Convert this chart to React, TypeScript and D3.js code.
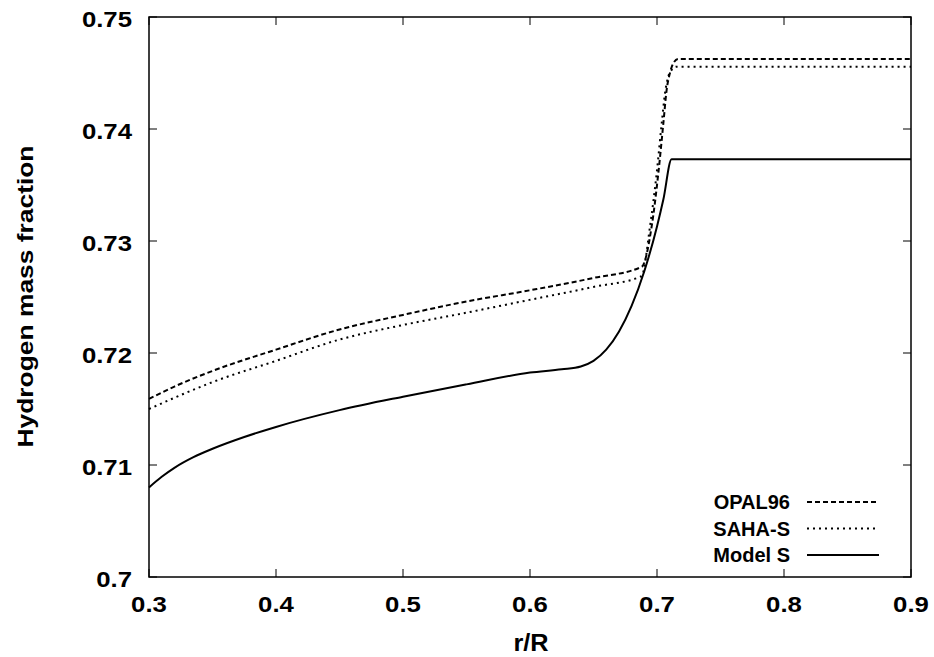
import React from "react";
import * as d3 from "d3";

const opalR = [0.30, 0.32, 0.35, 0.40, 0.45, 0.50, 0.55, 0.60, 0.65, 0.688, 0.6958, 0.7010, 0.7050, 0.7076, 0.7102, 0.7128, 0.7168, 0.90];
const opalY = [0.7159, 0.7170, 0.7184, 0.7203, 0.7221, 0.7234, 0.7246, 0.7256, 0.7267, 0.7277, 0.7313, 0.7360, 0.7405, 0.7435, 0.7450, 0.74586, 0.74625, 0.74625];

const sahaR = [0.30, 0.32, 0.35, 0.40, 0.45, 0.50, 0.55, 0.60, 0.65, 0.6878, 0.6945, 0.6997, 0.7037, 0.7063, 0.7089, 0.7115, 0.7154, 0.90];
const sahaY = [0.7150, 0.7160, 0.7174, 0.7193, 0.7212, 0.7225, 0.7236, 0.72475, 0.7259, 0.72685, 0.7313, 0.7360, 0.7405, 0.7432, 0.7447, 0.74527, 0.74556, 0.74556];

const modelR = [0.30, 0.31, 0.32, 0.335, 0.35, 0.375, 0.40, 0.45, 0.50, 0.55, 0.60, 0.625, 0.64, 0.65, 0.66, 0.67, 0.68, 0.69, 0.70, 0.705, 0.7115, 0.90];
const modelY = [0.7080, 0.70895, 0.70975, 0.7107, 0.71145, 0.7125, 0.7134, 0.7149, 0.7161, 0.7172, 0.71825, 0.71855, 0.7188, 0.7193, 0.7203, 0.7219, 0.7242, 0.7273, 0.7313, 0.7337, 0.7373, 0.7373];

const xTicks = [0.3, 0.4, 0.5, 0.6, 0.7, 0.8, 0.9];
const yTicks = [0.70, 0.71, 0.72, 0.73, 0.74, 0.75];
const seriesNames = ["OPAL96", "SAHA-S", "Model S"];
const seriesDash = ["5,3", "2,4", null];

const W = 934, H = 657;
const M = { left: 149, right: 911, top: 17, bottom: 577 };

export default function App() {
  const x = d3.scaleLinear().domain([0.3, 0.9]).range([M.left, M.right]);
  const y = d3.scaleLinear().domain([0.7, 0.75]).range([M.bottom, M.top]);
  const line = d3.line<[number, number]>().x(d => x(d[0])).y(d => y(d[1])).curve(d3.curveMonotoneX);
  const series = [
    opalR.map((r, i) => [r, opalY[i]] as [number, number]),
    sahaR.map((r, i) => [r, sahaY[i]] as [number, number]),
    modelR.map((r, i) => [r, modelY[i]] as [number, number]),
  ];
  const font = "'Liberation Sans', Arial, sans-serif";
  const tl = 8;
  return (
    <svg width={W} height={H} style={{ position: "absolute", left: 0, top: 0, background: "#fff" }} fontFamily={font} fontWeight="bold">
      <rect x={0} y={0} width={W} height={H} fill="#fff" />
      {xTicks.map(t => (
        <g key={"x" + t}>
          <line x1={x(t)} x2={x(t)} y1={M.bottom} y2={M.bottom - tl} stroke="#000" strokeWidth={1} />
          <line x1={x(t)} x2={x(t)} y1={M.top} y2={M.top + tl} stroke="#000" strokeWidth={1} />
          <text transform={`translate(${x(t)}, 612) scale(1.12, 1)`} textAnchor="middle" fontSize={23}>{String(t)}</text>
        </g>
      ))}
      {yTicks.map(t => (
        <g key={"y" + t}>
          <line x1={M.left} x2={M.left + tl} y1={y(t)} y2={y(t)} stroke="#000" strokeWidth={1} />
          <line x1={M.right} x2={M.right - tl} y1={y(t)} y2={y(t)} stroke="#000" strokeWidth={1} />
          <text transform={`translate(132, ${y(t) + 9.5}) scale(1.12, 1)`} textAnchor="end" fontSize={23}>{String(t)}</text>
        </g>
      ))}
      {series.map((s, i) => (
        <path key={"s" + i} d={line(s) || ""} fill="none" stroke="#000" strokeWidth={2}
          strokeDasharray={seriesDash[i] || undefined} />
      ))}
      {seriesNames.map((n, i) => {
        const ly = 502 + i * 26.5;
        return (
          <g key={"l" + i}>
            <text x={790} y={ly + 7} textAnchor="end" fontSize={20}>{n}</text>
            <line x1={807} x2={879} y1={ly} y2={ly} stroke="#000" strokeWidth={2} strokeDasharray={seriesDash[i] || undefined} />
          </g>
        );
      })}
      <rect x={M.left} y={M.top} width={M.right - M.left} height={M.bottom - M.top} fill="none" stroke="#000" strokeWidth={1.5} />
      <text transform={`translate(${(M.left + M.right) / 2 + 1}, 651) scale(1.1, 1)`} textAnchor="middle" fontSize={23}>r/R</text>
      <text transform={`translate(33, 296.5) rotate(-90) scale(1.2, 1)`} textAnchor="middle" fontSize={22}>Hydrogen mass fraction</text>
    </svg>
  );
}
